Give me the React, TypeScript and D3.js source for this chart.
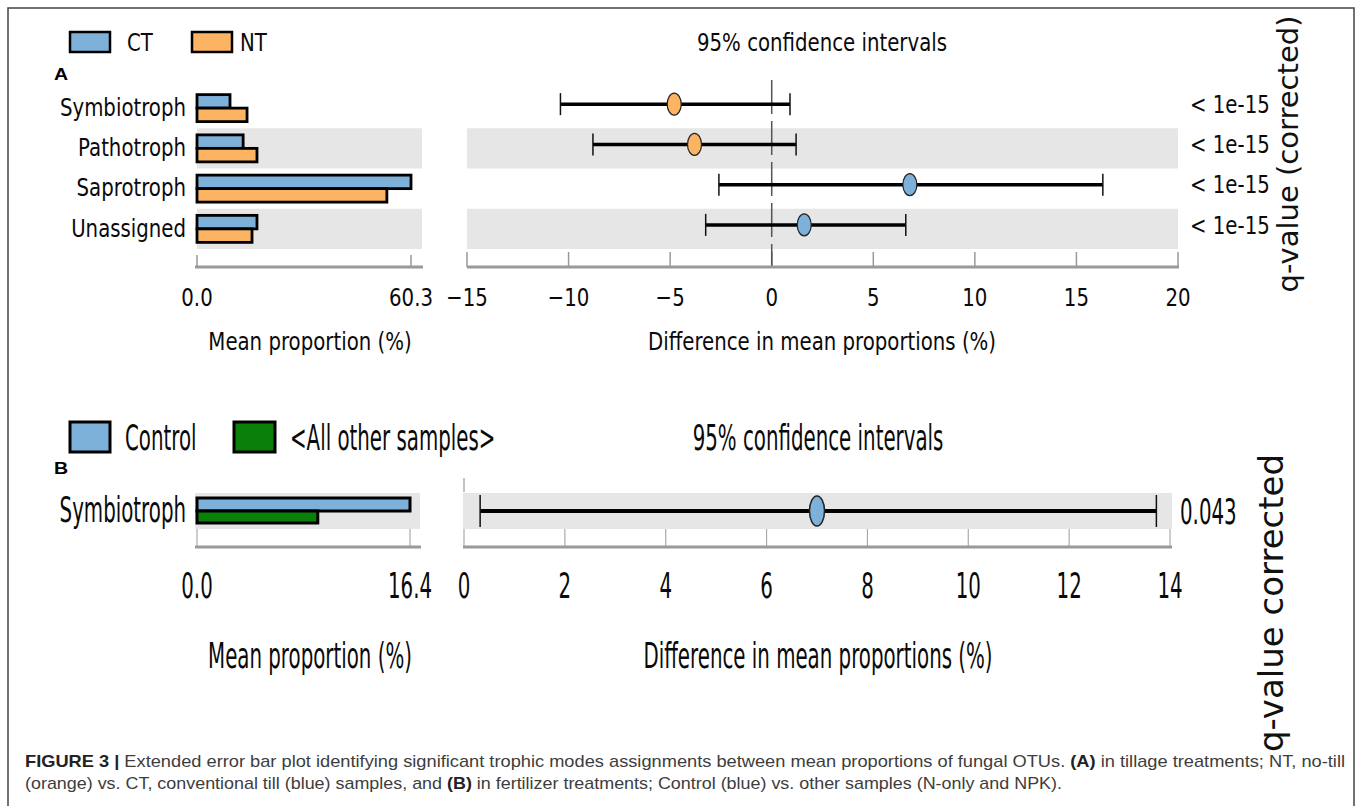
import React from "react";
import * as d3 from "d3";

// panel A: tillage (CT vs NT)
const categoriesA = ["Symbiotroph", "Pathotroph", "Saprotroph", "Unassigned"];
const meanCT = [9.3, 13.0, 60.3, 16.9];
const meanNT = [14.1, 16.9, 53.5, 15.5];
const diffA = [-4.8, -3.8, 6.8, 1.6];
const ciLowA = [-10.4, -8.8, -2.6, -3.25];
const ciHighA = [0.9, 1.2, 16.3, 6.6];
const qValuesA = ["< 1e-15", "< 1e-15", "< 1e-15", "< 1e-15"];
const meanTicksA = [0, 60.3];
const diffTicksA = [-15, -10, -5, 0, 5, 10, 15, 20];

// panel B: fertilizer (Control vs others)
const categoriesB = ["Symbiotroph"];
const meanControl = [16.4];
const meanOther = [9.3];
const diffB = [7.0];
const ciLowB = [0.32];
const ciHighB = [13.73];
const qValuesB = ["0.043"];
const meanTicksB = [0, 16.4];
const diffTicksB = [0, 2, 4, 6, 8, 10, 12, 14];

const BLUE = "#7db1d9";
const ORANGE = "#fdb462";
const GREEN = "#0a7f0a";
const BAND = "#e6e6e6";
const FONT = "DejaVu Sans, Verdana, sans-serif";
const CAPTION_FONT = "Liberation Sans, Arial, sans-serif";

// text is horizontally squeezed in the original figure
const T = ({ x, y, size, sx, anchor = "start", children }: any) => (
  <text
    transform={`translate(${x},${y}) scale(${sx},1)`}
    fontSize={size}
    textAnchor={anchor}
    dy="0.35em"
    fontFamily={FONT}
    fill="#0a0a0a"
  >
    {children}
  </text>
);

const App = () => {
  const width = 1357, height = 806;

  // A scales
  const yA = d3.scaleBand().domain(categoriesA).range([88, 249]);
  const xMeanA = d3.scaleLinear().domain([0, 60.3]).range([197, 411]);
  const xDiffA = d3.scaleLinear().domain([-15, 20]).range([467, 1178]);
  const axisYA = 267;
  const barH = 13.5;

  // B scales
  const yB = d3.scaleBand().domain(categoriesB).range([493, 529]);
  const xMeanB = d3.scaleLinear().domain([0, 16.4]).range([197, 410]);
  const xDiffB = d3.scaleLinear().domain([0, 14]).range([464, 1170]);
  const axisYB = 547;

  const sA = 0.79, fA = 25;
  const sB = 0.55, fB = 36;

  return (
    <svg width={width} height={height} style={{ position: "absolute", left: 0, top: 0, background: "#fff" }}>
      <rect width={width} height={height} fill="#fff" />
      <path d="M8,830 V8 H1354 V830" fill="none" stroke="#444" strokeWidth={1.5} />

      {/* ---------- Panel A ---------- */}
      <rect x={70} y={32} width={40} height={20} fill={BLUE} stroke="#000" strokeWidth={2.5} />
      <T x={127} y={42} size={fA} sx={sA}>CT</T>
      <rect x={192} y={32} width={40} height={20} fill={ORANGE} stroke="#000" strokeWidth={2.5} />
      <T x={240} y={42} size={fA} sx={sA}>NT</T>
      <text transform="translate(54,80) scale(1.15,1)" fontSize={17} fontWeight="bold" fontFamily={CAPTION_FONT}>A</text>
      <T x={822} y={42} size={fA} sx={sA} anchor="middle">95% confidence intervals</T>

      {categoriesA.map((c, i) => i % 2 === 1 ? (
        <g key={"bandA" + c}>
          <rect x={197} y={yA(c)} width={225} height={yA.bandwidth()} fill={BAND} />
          <rect x={467} y={yA(c)} width={711} height={yA.bandwidth()} fill={BAND} />
        </g>
      ) : null)}

      {/* zero line */}
      <line x1={xDiffA(0)} x2={xDiffA(0)} y1={80} y2={axisYA} stroke="#555" strokeWidth={1.5} strokeDasharray="34,7" />

      {categoriesA.map((c, i) => {
        const cy = (yA(c) as number) + yA.bandwidth() / 2;
        return (
          <g key={"rowA" + c}>
            <T x={186} y={cy - 1} size={fA} sx={sA} anchor="end">{c}</T>
            <rect x={xMeanA(0)} y={cy - barH} width={xMeanA(meanCT[i]) - xMeanA(0)} height={barH} fill={BLUE} stroke="#000" strokeWidth={2.8} />
            <rect x={xMeanA(0)} y={cy} width={xMeanA(meanNT[i]) - xMeanA(0)} height={barH} fill={ORANGE} stroke="#000" strokeWidth={2.8} />
            <line x1={xDiffA(ciLowA[i])} x2={xDiffA(ciHighA[i])} y1={cy - 4} y2={cy - 4} stroke="#000" strokeWidth={3.5} />
            <line x1={xDiffA(ciLowA[i])} x2={xDiffA(ciLowA[i])} y1={cy - 15} y2={cy + 7} stroke="#111" strokeWidth={1.5} />
            <line x1={xDiffA(ciHighA[i])} x2={xDiffA(ciHighA[i])} y1={cy - 15} y2={cy + 7} stroke="#111" strokeWidth={1.5} />
            <ellipse cx={xDiffA(diffA[i])} cy={cy - 4} rx={7} ry={11} fill={diffA[i] > 0 ? BLUE : ORANGE} stroke="#222" strokeWidth={1.2} />
            <T x={1190} y={cy - 4} size={fA} sx={sA}>{qValuesA[i]}</T>
          </g>
        );
      })}

      {/* A axes */}
      {meanTicksA.map((t) => (
        <g key={"mtA" + t}>
          <line x1={xMeanA(t)} x2={xMeanA(t)} y1={255} y2={axisYA} stroke="#999" strokeWidth={1.5} />
          <T x={xMeanA(t)} y={297} size={fA} sx={sA} anchor="middle">{t.toFixed(1)}</T>
        </g>
      ))}
      <line x1={195} x2={423} y1={axisYA} y2={axisYA} stroke="#999" strokeWidth={3} />
      <T x={310} y={341} size={fA} sx={sA} anchor="middle">Mean proportion (%)</T>

      {diffTicksA.map((t) => (
        <g key={"dtA" + t}>
          <line x1={xDiffA(t)} x2={xDiffA(t)} y1={252} y2={axisYA} stroke={t === 0 ? "#555" : "#999"} strokeWidth={1.5} />
          <T x={xDiffA(t)} y={297} size={fA} sx={sA} anchor="middle">{t < 0 ? "\u2212" + Math.abs(t) : String(t)}</T>
        </g>
      ))}
      <line x1={467} x2={1179} y1={axisYA} y2={axisYA} stroke="#999" strokeWidth={3} />
      <T x={822} y={341} size={fA} sx={sA} anchor="middle">Difference in mean proportions (%)</T>

      <text transform="translate(1288,154) rotate(-90)" fontSize={29} textAnchor="middle" dy="0.35em" fontFamily={FONT} fill="#111">
        q-value (corrected)
      </text>

      {/* ---------- Panel B ---------- */}
      <rect x={70} y={422} width={40} height={30} fill={BLUE} stroke="#000" strokeWidth={3} />
      <T x={125} y={437} size={fB} sx={sB}>Control</T>
      <rect x={234} y={422} width={41} height={30} fill={GREEN} stroke="#000" strokeWidth={3} />
      <T x={290} y={437} size={fB} sx={sB}>{"<All other samples>"}</T>
      <text transform="translate(54,474) scale(1.15,1)" fontSize={17} fontWeight="bold" fontFamily={CAPTION_FONT}>B</text>
      <T x={818} y={437} size={fB} sx={sB} anchor="middle">95% confidence intervals</T>

      <line x1={xDiffB(0)} x2={xDiffB(0)} y1={478} y2={492} stroke="#999" strokeWidth={1.2} />

      {categoriesB.map((c, i) => {
        const cy = (yB(c) as number) + yB.bandwidth() / 2;
        return (
          <g key={"rowB" + c}>
            <rect x={195} y={yB(c)} width={225} height={yB.bandwidth()} fill={BAND} />
            <rect x={463} y={yB(c)} width={709} height={yB.bandwidth()} fill={BAND} />
            <T x={186} y={cy - 2} size={fB} sx={sB} anchor="end">{c}</T>
            <rect x={xMeanB(0)} y={cy - 13} width={xMeanB(meanControl[i]) - xMeanB(0)} height={13} fill={BLUE} stroke="#000" strokeWidth={3} />
            <rect x={xMeanB(0)} y={cy} width={xMeanB(meanOther[i]) - xMeanB(0)} height={12} fill={GREEN} stroke="#000" strokeWidth={3} />
            <line x1={xDiffB(ciLowB[i])} x2={xDiffB(ciHighB[i])} y1={cy} y2={cy} stroke="#000" strokeWidth={4} />
            <line x1={xDiffB(ciLowB[i])} x2={xDiffB(ciLowB[i])} y1={cy - 16} y2={cy + 16} stroke="#111" strokeWidth={1.5} />
            <line x1={xDiffB(ciHighB[i])} x2={xDiffB(ciHighB[i])} y1={cy - 16} y2={cy + 16} stroke="#111" strokeWidth={1.5} />
            <ellipse cx={xDiffB(diffB[i])} cy={cy} rx={7.5} ry={15} fill={BLUE} stroke="#222" strokeWidth={1.5} />
            <T x={1180} y={cy} size={fB} sx={sB}>{qValuesB[i]}</T>
          </g>
        );
      })}

      {meanTicksB.map((t) => (
        <g key={"mtB" + t}>
          <line x1={xMeanB(t)} x2={xMeanB(t)} y1={529} y2={axisYB} stroke="#aaa" strokeWidth={1.2} />
          <T x={xMeanB(t)} y={585} size={fB} sx={sB} anchor="middle">{t.toFixed(1)}</T>
        </g>
      ))}
      <line x1={195} x2={421} y1={axisYB} y2={axisYB} stroke="#999" strokeWidth={3} />
      <T x={310} y={655} size={fB} sx={sB} anchor="middle">Mean proportion (%)</T>

      {diffTicksB.map((t) => (
        <g key={"dtB" + t}>
          <line x1={xDiffB(t)} x2={xDiffB(t)} y1={529} y2={axisYB} stroke="#aaa" strokeWidth={1.2} />
          <T x={xDiffB(t)} y={585} size={fB} sx={sB} anchor="middle">{String(t)}</T>
        </g>
      ))}
      <line x1={463} x2={1172} y1={axisYB} y2={axisYB} stroke="#999" strokeWidth={3} />
      <T x={818} y={655} size={fB} sx={sB} anchor="middle">Difference in mean proportions (%)</T>

      <text transform="translate(1271,603) rotate(-90)" fontSize={34} textAnchor="middle" dy="0.35em" fontFamily={FONT} fill="#111">
        q-value corrected
      </text>

      {/* ---------- caption ---------- */}
      <text x={25} y={767} fontSize={17} fill="#3d3d3d" fontFamily={CAPTION_FONT} textLength={1320} lengthAdjust="spacingAndGlyphs">
        <tspan fontWeight="bold" fill="#222">{"FIGURE 3 | "}</tspan>
        {"Extended error bar plot identifying significant trophic modes assignments between mean proportions of fungal OTUs. "}
        <tspan fontWeight="bold" fill="#222">(A)</tspan>
        {" in tillage treatments; NT, no-till"}
      </text>
      <text x={25} y={789} fontSize={17} fill="#3d3d3d" fontFamily={CAPTION_FONT} textLength={1037} lengthAdjust="spacingAndGlyphs">
        {"(orange) vs. CT, conventional till (blue) samples, and "}
        <tspan fontWeight="bold" fill="#222">(B)</tspan>
        {" in fertilizer treatments; Control (blue) vs. other samples (N-only and NPK)."}
      </text>
    </svg>
  );
};

export default App;
